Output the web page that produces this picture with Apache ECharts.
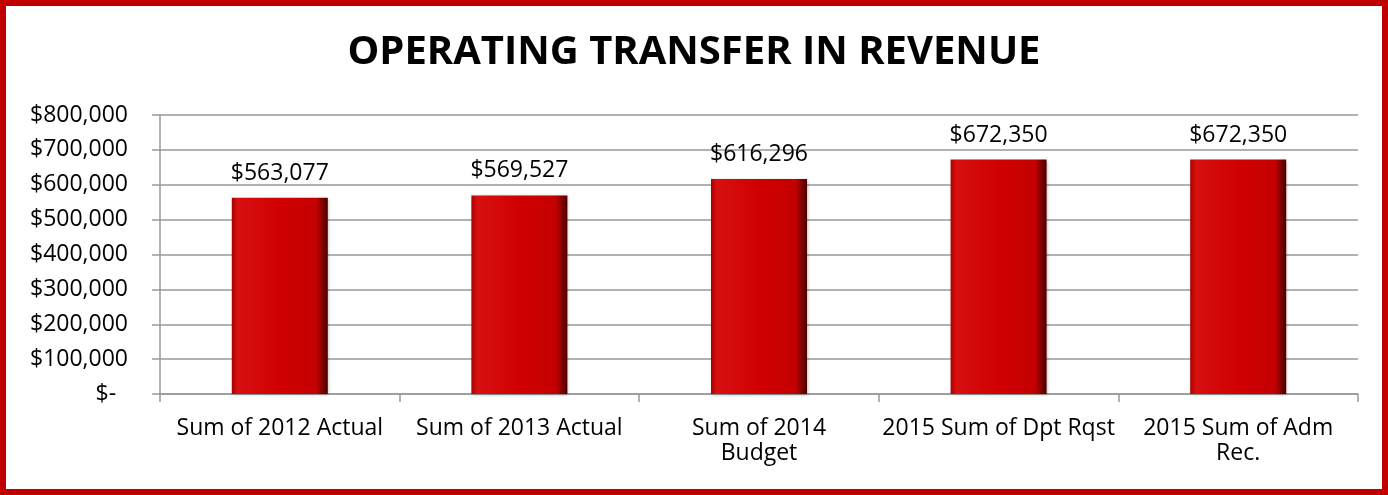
<!DOCTYPE html>
<html>
<head>
<meta charset="utf-8">
<script src="https://cdn.jsdelivr.net/npm/echarts@6/dist/echarts.min.js"></script>
<style>
  html, body { margin: 0; padding: 0; background: #fff; }
  #main { width: 1388px; height: 495px; }
</style>
</head>
<body>
<div id="main"></div>
<script>
// 数据
var categories = ['Sum of 2012 Actual', 'Sum of 2013 Actual', 'Sum of 2014\nBudget', '2015 Sum of Dpt Rqst', '2015 Sum of Adm\nRec.'];
var revenue = [563077, 569527, 616296, 672350, 672350];
var titleText = 'OPERATING TRANSFER IN REVENUE';

function money(v) {
  if (v === 0) return '$-  ';
  return '$' + v.toString().replace(/\B(?=(\d{3})+(?!\d))/g, ',');
}

var myChart = echarts.init(document.getElementById('main'));
var option = {
  backgroundColor: '#fff',
  animation: false,
  title: {
    text: titleText,
    left: 'center',
    top: 28,
    textStyle: {
      fontFamily: 'Open Sans',
      fontWeight: 'bold',
      fontSize: 40,
      color: '#000'
    }
  },
  graphic: [{
    type: 'rect',
    shape: { x: 3, y: 3, width: 1382, height: 489 },
    style: { fill: 'none', stroke: '#c00000', lineWidth: 6 },
    silent: true
  }],
  grid: { left: 160, right: 30, top: 115, bottom: 101 },
  xAxis: {
    type: 'category',
    data: categories,
    axisLine: { lineStyle: { color: '#999', width: 1.5 } },
    axisTick: { show: true, length: 8, lineStyle: { color: '#999', width: 1.5 } },
    axisLabel: {
      color: '#000',
      fontFamily: 'Open Sans',
      fontSize: 23,
      lineHeight: 25,
      margin: 22,
      interval: 0
    }
  },
  yAxis: {
    type: 'value',
    min: 0,
    max: 800000,
    interval: 100000,
    axisLine: { show: true, lineStyle: { color: '#999', width: 1.5 } },
    axisTick: { show: true, length: 8, lineStyle: { color: '#999', width: 1.5 } },
    splitLine: { lineStyle: { color: '#999', width: 1.5 } },
    axisLabel: {
      color: '#000',
      fontFamily: 'Open Sans',
      fontSize: 23,
      margin: 32,
      formatter: money
    }
  },
  series: [{
    type: 'bar',
    data: revenue,
    barWidth: 96,
    itemStyle: {
      color: new echarts.graphic.LinearGradient(0, 0, 1, 0, [
        { offset: 0, color: '#a80000' },
        { offset: 0.06, color: '#d81010' },
        { offset: 0.5, color: '#d00000' },
        { offset: 0.88, color: '#c40000' },
        { offset: 1, color: '#4a0000' }
      ]),
      shadowColor: 'rgba(0,0,0,0.25)',
      shadowBlur: 3,
      shadowOffsetX: 1,
      shadowOffsetY: 1
    },
    label: {
      show: true,
      position: 'top',
      distance: 13,
      color: '#000',
      fontFamily: 'Open Sans',
      fontSize: 23,
      formatter: function (p) { return money(p.value); }
    }
  }]
};
myChart.setOption(option);
</script>
</body>
</html>
